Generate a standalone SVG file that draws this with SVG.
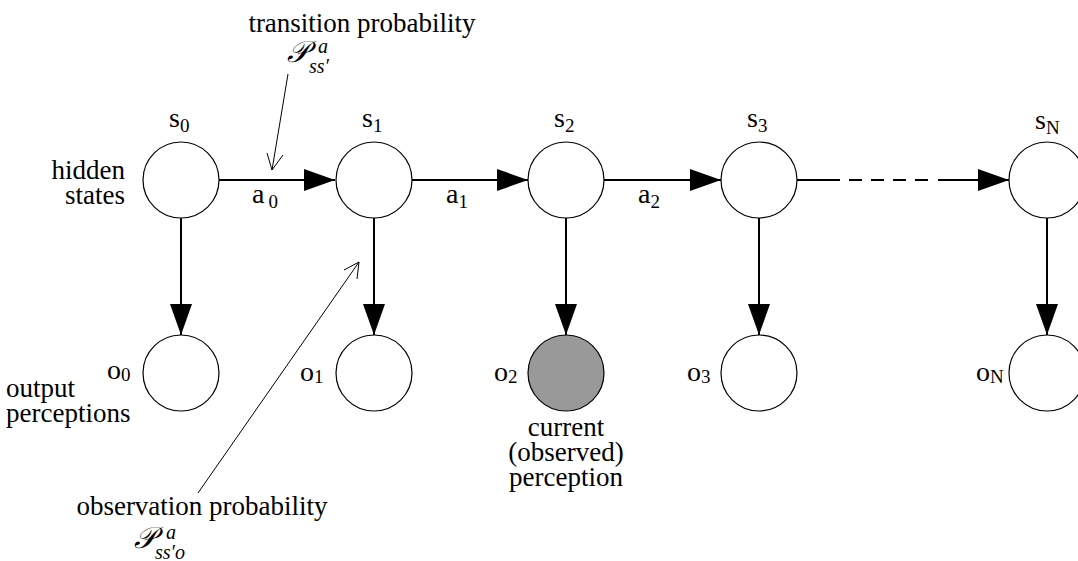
<svg xmlns="http://www.w3.org/2000/svg" width="1078" height="561" viewBox="0 0 1078 561">
<style>
  .node { fill: #fff; stroke: #000; stroke-width: 1.2; }
  .obs { fill: #999; stroke: #000; stroke-width: 1.2; }
  .edge { stroke: #000; stroke-width: 2; fill: none; }
  .ptr { stroke: #000; stroke-width: 1; fill: none; }
  text { font-family: "Liberation Serif", "Times New Roman", serif; fill: #000; }
  .lbl { font-size: 27px; }
  .nl { font-size: 28px; }
  .sub { font-size: 19px; }
  .math { font-style: italic; }
</style>
<defs>
  <marker id="tri" markerUnits="userSpaceOnUse" markerWidth="32" markerHeight="24" refX="31" refY="11" orient="auto">
    <path d="M0,0 L31,11 L0,22 z" fill="#000"/>
  </marker>
</defs>
<rect width="1078" height="561" fill="#fff"/>

<g id="connectors">
  <line class="edge" x1="219" y1="180" x2="335" y2="180" marker-end="url(#tri)"/>
  <line class="edge" x1="412" y1="180" x2="528" y2="180" marker-end="url(#tri)"/>
  <line class="edge" x1="604" y1="180" x2="721" y2="180" marker-end="url(#tri)"/>
  <line class="edge" x1="797" y1="180" x2="840" y2="180"/>
  <line class="edge" x1="849" y1="180" x2="928" y2="180" stroke-dasharray="13 9"/>
  <line class="edge" x1="938" y1="180" x2="1009" y2="180" marker-end="url(#tri)"/>
  <line class="edge" x1="181" y1="218" x2="181" y2="335" marker-end="url(#tri)"/>
  <line class="edge" x1="374" y1="218" x2="374" y2="335" marker-end="url(#tri)"/>
  <line class="edge" x1="566" y1="218" x2="566" y2="335" marker-end="url(#tri)"/>
  <line class="edge" x1="759" y1="218" x2="759" y2="335" marker-end="url(#tri)"/>
  <line class="edge" x1="1047" y1="218" x2="1047" y2="335" marker-end="url(#tri)"/>
  <line class="ptr" x1="288" y1="74" x2="272" y2="170"/>
  <polyline class="ptr" points="267,153 272,170 283,155"/>
  <line class="ptr" x1="198" y1="493" x2="359" y2="262"/>
  <polyline class="ptr" points="344,270 359,262 357,279"/>
</g>

<g id="s0"><circle class="node" cx="181" cy="180" r="38"/><text class="nl" x="169" y="127">s<tspan class="sub" dy="5">0</tspan></text></g>
<g id="s1"><circle class="node" cx="374" cy="180" r="38"/><text class="nl" x="362" y="127">s<tspan class="sub" dy="5">1</tspan></text></g>
<g id="s2"><circle class="node" cx="566" cy="180" r="38"/><text class="nl" x="554" y="127">s<tspan class="sub" dy="5">2</tspan></text></g>
<g id="s3"><circle class="node" cx="759" cy="180" r="38"/><text class="nl" x="747" y="127">s<tspan class="sub" dy="5">3</tspan></text></g>
<g id="sN"><circle class="node" cx="1047" cy="180" r="38"/><text class="nl" x="1035" y="129">s<tspan class="sub" dy="5">N</tspan></text></g>

<g id="o0"><circle class="node" cx="181" cy="373" r="38"/><text class="nl" x="107" y="379">o<tspan class="sub" dy="2">0</tspan></text></g>
<g id="o1"><circle class="node" cx="374" cy="373" r="38"/><text class="nl" x="300" y="381">o<tspan class="sub" dy="2">1</tspan></text></g>
<g id="o2"><circle class="obs" cx="566" cy="373" r="38"/><text class="nl" x="494" y="381">o<tspan class="sub" dy="2">2</tspan></text></g>
<g id="o3"><circle class="node" cx="759" cy="373" r="38"/><text class="nl" x="687" y="381">o<tspan class="sub" dy="2">3</tspan></text></g>
<g id="oN"><circle class="node" cx="1047" cy="373" r="38"/><text class="nl" x="976" y="381">o<tspan class="sub" dy="2">N</tspan></text></g>

<g id="action-labels">
  <text class="nl" x="252" y="203">a<tspan class="sub" dx="4" dy="5">0</tspan></text>
  <text class="nl" x="446" y="203">a<tspan class="sub" dy="5">1</tspan></text>
  <text class="nl" x="638" y="203">a<tspan class="sub" dy="5">2</tspan></text>
</g>

<g id="side-labels">
  <text class="lbl" text-anchor="end"><tspan x="125" y="179">hidden</tspan><tspan x="125" y="204">states</tspan></text>
  <text class="lbl"><tspan x="6" y="397">output</tspan><tspan x="6" y="422">perceptions</tspan></text>
  <text class="lbl" text-anchor="middle"><tspan x="566" y="436">current</tspan><tspan x="566" y="461">(observed)</tspan><tspan x="566" y="486">perception</tspan></text>
</g>

<g id="transition-label">
  <text class="lbl" x="362" y="32" text-anchor="middle">transition probability</text>
  <text class="math" x="287" y="62" font-size="30">𝒫</text>
  <text class="math" x="318" y="53" font-size="20">a</text>
  <text class="math" x="309" y="73" font-size="20">ss′</text>
</g>

<g id="observation-label">
  <text class="lbl" x="202" y="515" text-anchor="middle">observation probability</text>
  <text class="math" x="134" y="548" font-size="30">𝒫</text>
  <text class="math" x="166" y="539" font-size="20">a</text>
  <text class="math" x="155" y="559" font-size="20">ss′o</text>
</g>
</svg>
